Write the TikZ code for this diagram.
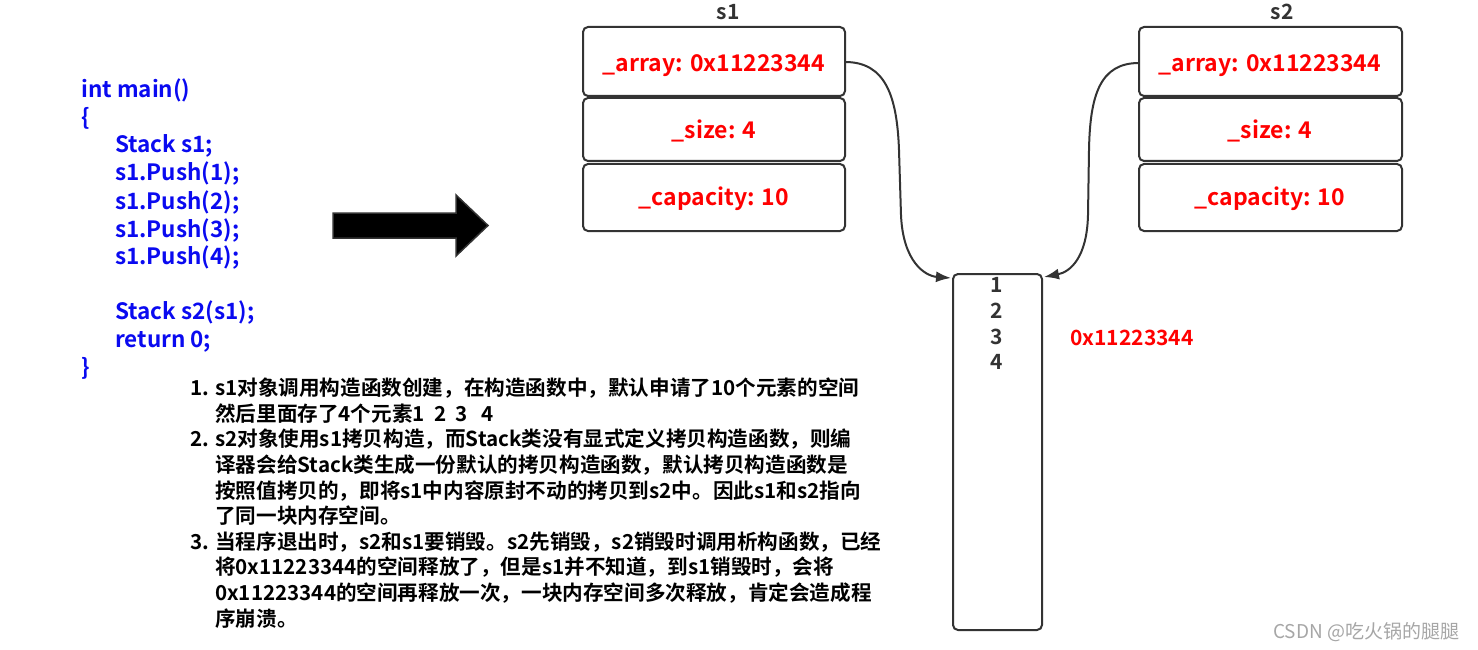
\documentclass[tikz,border=0pt]{standalone}
\usepackage{fontspec}
\setmainfont{Noto Sans CJK SC}
\newfontfamily\cjkb{Noto Sans CJK SC Bold}
\usetikzlibrary{arrows.meta}
\definecolor{dk}{HTML}{333333}
\definecolor{rd}{HTML}{FF0000}
\definecolor{bl}{HTML}{0A0AF0}
\definecolor{wm}{HTML}{A6A6A6}
\tikzset{
  codeline/.style={anchor=west, inner sep=0pt, text=bl, font=\cjkb\fontsize{22.5}{27}\selectfont, text height=17.5pt, text depth=1.5pt},
  paraline/.style={anchor=west, inner sep=0pt, text=black, font=\cjkb\fontsize{20.6}{24}\selectfont, text height=17pt, text depth=1.5pt},
  field/.style={draw=dk, line width=2pt, rounded corners=5pt},
  fieldtext/.style={text=rd, font=\cjkb\fontsize{23}{27}\selectfont, inner sep=0pt, text height=18pt, text depth=1.5pt},
  title/.style={text=dk, font=\cjkb\fontsize{21}{25}\selectfont, inner sep=0pt},
  numtext/.style={text=dk, font=\cjkb\fontsize{21}{25}\selectfont, inner sep=0pt},
  conn/.style={draw=dk, line width=2pt, -{Latex[length=15pt,width=11pt]}},
}
\begin{document}
\begin{tikzpicture}[x=1pt,y=-1pt]
\useasboundingbox (0,0) rectangle (1478,650);
% code
\node[codeline] (c1) at (81,90) {int main()};
\node[codeline] (c2) at (81,118) {\{};
\node[codeline] (c3) at (115,145) {Stack s1;};
\node[codeline] (c4) at (115,173) {s1.Push(1);};
\node[codeline] (c5) at (115,201) {s1.Push(2);};
\node[codeline] (c6) at (115,229) {s1.Push(3);};
\node[codeline] (c7) at (115,256) {s1.Push(4);};
\node[codeline] (c8) at (115,311) {Stack s2(s1);};
\node[codeline] (c9) at (115,339) {return 0;};
\node[codeline] (c10) at (81,367) {\}};
% paragraph
\node[paraline] (n1) at (190,388) {1.};
\node[paraline] (p1) at (215,388) {s1对象调用构造函数创建，在构造函数中，默认申请了10个元素的空间};
\node[paraline] (p2) at (215,413.6) {然后里面存了4个元素1\ \ 2\ \ 3\ \ \ 4};
\node[paraline] (n2) at (190,439.2) {2.};
\node[paraline] (p3) at (215,439.2) {s2对象使用s1拷贝构造，而Stack类没有显式定义拷贝构造函数，则编};
\node[paraline] (p4) at (215,464.8) {译器会给Stack类生成一份默认的拷贝构造函数，默认拷贝构造函数是};
\node[paraline] (p5) at (215,490.4) {按照值拷贝的，即将s1中内容原封不动的拷贝到s2中。因此s1和s2指向};
\node[paraline] (p6) at (215,516) {了同一块内存空间。};
\node[paraline] (n3) at (190,541.6) {3.};
\node[paraline] (p7) at (215,541.6) {当程序退出时，s2和s1要销毁。s2先销毁，s2销毁时调用析构函数，已经};
\node[paraline] (p8) at (215,567.2) {将0x11223344的空间释放了，但是s1并不知道，到s1销毁时，会将};
\node[paraline] (p9) at (215,592.8) {0x11223344的空间再释放一次，一块内存空间多次释放，肯定会造成程};
\node[paraline] (p10) at (215,618.4) {序崩溃。};
% big arrow
\draw[fill=black, draw=dk, line width=1.5pt, line join=miter] (333,213) -- (456,213) -- (456,195) -- (488,225.5) -- (456,256) -- (456,238) -- (333,238) -- cycle;
% s1
\node[title] (t1) at (728,12) {s1};
\draw[field] (583,27) rectangle (845,96);
\draw[field] (583,98) rectangle (845,161);
\draw[field] (583,164) rectangle (845,231);
\node[fieldtext] (s1a) at (714,63) {\_array: 0x11223344};
\node[fieldtext] (s1b) at (714,130) {\_size: 4};
\node[fieldtext] (s1c) at (714,197) {\_capacity: 10};
\coordinate (s1e) at (845,62);
% s2
\node[title] (t2) at (1282,12) {s2};
\draw[field] (1139,27) rectangle (1402,96);
\draw[field] (1139,98) rectangle (1402,161);
\draw[field] (1139,164) rectangle (1402,231);
\node[fieldtext] (s2a) at (1270,63) {\_array: 0x11223344};
\node[fieldtext] (s2b) at (1270,130) {\_size: 4};
\node[fieldtext] (s2c) at (1270,197) {\_capacity: 10};
\coordinate (s2e) at (1139,63);
% memory
\node[draw=dk, line width=2pt, rounded corners=5pt, minimum width=89pt, minimum height=356pt, inner sep=0pt] (mem) at (997.5,452) {};
\node[numtext] (m1) at (997,285) {1};
\node[numtext] (m2) at (997,311) {2};
\node[numtext] (m3) at (997,337) {3};
\node[numtext] (m4) at (997,362) {4};
\node[text=rd, font=\cjkb\fontsize{21}{25}\selectfont, inner sep=0pt] (addr) at (1132,338) {0x11223344};
\coordinate (tipL) at (951,278);
\coordinate (tipR) at (1044,277);
% connectors
\draw[conn] (s1e) .. controls (885,62) and (897,95) .. (899,150) -- (901,215) .. controls (903,262) and (925,276) .. (tipL);
\draw[conn] (s2e) .. controls (1100,63) and (1090,95) .. (1089,150) -- (1088,215) .. controls (1087,258) and (1070,272) .. (tipR);
% watermark
\node[text=wm, font=\fontsize{19}{22}\selectfont, inner sep=0pt, anchor=west] (wmk) at (1273,632) {CSDN @吃火锅的腿腿};
\end{tikzpicture}
\end{document}
